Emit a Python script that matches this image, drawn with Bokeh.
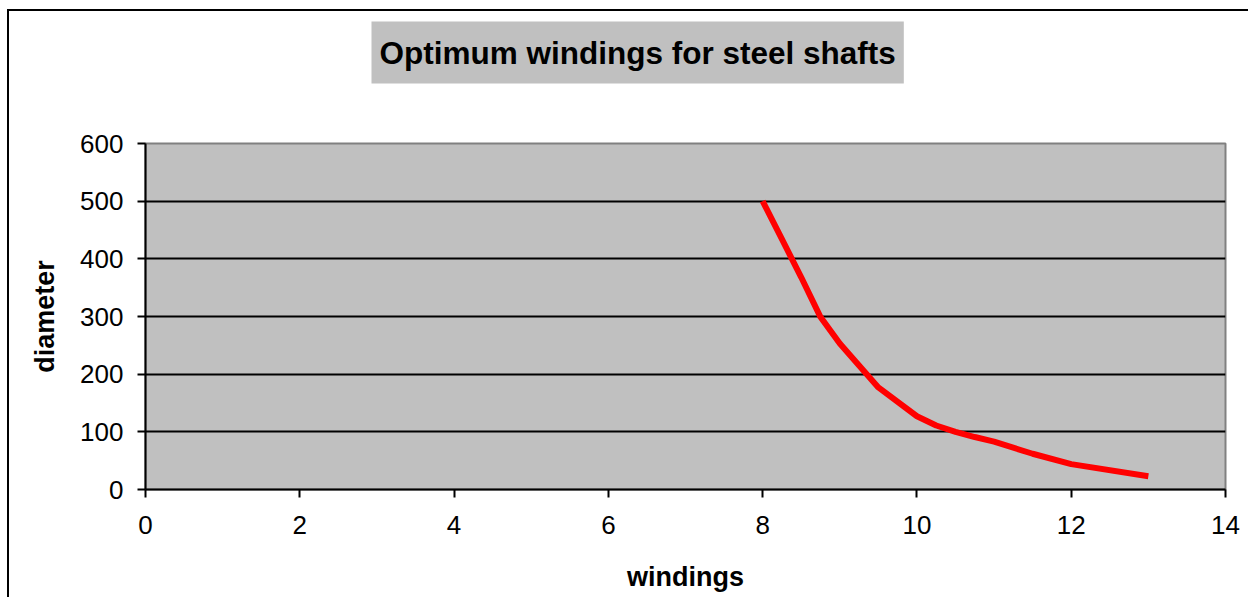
from bokeh.plotting import figure
from bokeh.models import Range1d, SingleIntervalTicker, Title
from bokeh.embed import file_html
from bokeh.resources import INLINE

title_text = "Optimum windings for steel shafts"
x_label = "windings"
y_label = "diameter"
windings = [8, 8.25, 8.5, 8.75, 9, 9.5, 10, 10.25, 10.5, 10.75, 11, 11.5, 12, 13]
diameter = [500, 434, 368, 299, 253, 177, 127, 111, 100, 91, 83, 62, 44, 23]

FONT = "Liberation Sans"

p = figure(width=1248, height=597, frame_width=1080, frame_height=346,
           min_border_left=145, min_border_right=23, min_border_top=143, min_border_bottom=108,
           x_range=Range1d(0, 14), y_range=Range1d(0, 600),
           output_backend="svg", toolbar_location=None, title=None)
p.border_fill_alpha = 0
p.styles = {
    "background": "linear-gradient(black, black) 7px 9px / 2px 100% no-repeat, "
                  "linear-gradient(black, black) 7px 9px / 100% 2px no-repeat, white"
}

p.background_fill_color = "#C0C0C0"
p.outline_line_color = "#808080"
p.outline_line_width = 2

p.xgrid.visible = False
p.ygrid.grid_line_color = "black"
p.ygrid.grid_line_width = 2
p.ygrid.ticker = SingleIntervalTicker(interval=100)

p.xaxis.ticker = SingleIntervalTicker(interval=2)
p.yaxis.ticker = SingleIntervalTicker(interval=100)
for ax in (p.xaxis[0], p.yaxis[0]):
    ax.axis_line_color = "black"
    ax.axis_line_width = 2
    ax.major_tick_line_color = "black"
    ax.major_tick_line_width = 2
    ax.major_tick_out = 8
    ax.major_tick_in = 0
    ax.minor_tick_line_color = None
    ax.major_label_text_font = FONT
    ax.major_label_text_font_size = "26px"
    ax.major_label_text_color = "black"
    ax.axis_label_text_font = FONT
    ax.axis_label_text_font_size = "27px"
    ax.axis_label_text_font_style = "bold"
    ax.axis_label_text_color = "black"

p.xaxis.axis_label = x_label
p.yaxis.axis_label = y_label
p.xaxis.major_label_standoff = 18
p.yaxis.major_label_standoff = 14
p.xaxis.axis_label_standoff = 25
p.yaxis.axis_label_standoff = 17

p.line(windings, diameter, line_color="#FF0000", line_width=6)

# blank spacer between frame and title box (first item sits nearest the frame)
spacer = Title(text=" ", text_font_size="10px", text_color="black", standoff=28)
p.add_layout(spacer, "above")

title = Title(text=title_text, align="left", offset=226, standoff=38,
              text_font=FONT, text_font_size="31.5px", text_font_style="bold",
              text_color="black", background_fill_color="#C0C0C0",
              padding={"x": 8, "y": 13})
p.add_layout(title, "above")

open("out.html", "w").write(file_html(p, INLINE))
